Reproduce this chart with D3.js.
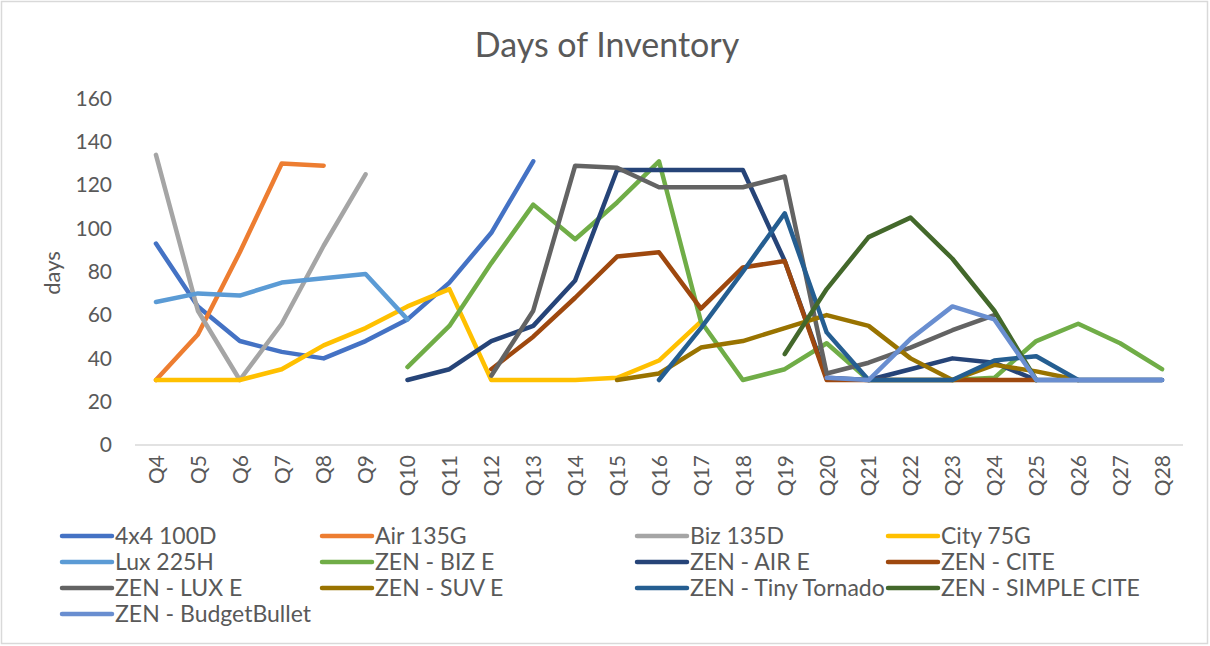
<!DOCTYPE html>
<html>
<head>
<meta charset="utf-8">
<script src="https://cdn.jsdelivr.net/npm/d3@7"></script>
<style>
  html, body { margin: 0; padding: 0; background: #fff; }
  svg { display: block; font-family: Lato, "Open Sans", sans-serif; }
</style>
</head>
<body>
<svg id="chart" width="1210" height="646"></svg>
<script>
// Quarters on the category axis
const quarters = ["Q4","Q5","Q6","Q7","Q8","Q9","Q10","Q11","Q12","Q13","Q14","Q15","Q16",
                  "Q17","Q18","Q19","Q20","Q21","Q22","Q23","Q24","Q25","Q26","Q27","Q28"];

// Days of inventory per model, one value per quarter (null = no data)
const s4x4_100D   = [93,64,48,43,40,48,58,75,98,131,null,null,null,null,null,null,null,null,null,null,null,null,null,null,null];
const air135G     = [30,51,89,130,129,null,null,null,null,null,null,null,null,null,null,null,null,null,null,null,null,null,null,null,null];
const biz135D     = [134,62,30,56,92,125,null,null,null,null,null,null,null,null,null,null,null,null,null,null,null,null,null,null,null];
const city75G     = [30,30,30,35,46,54,64,72,30,30,30,31,39,57,null,null,null,null,null,null,null,null,null,null,null];
const lux225H     = [66,70,69,75,77,79,58,null,null,null,null,null,null,null,null,null,null,null,null,null,null,null,null,null,null];
const zenBizE     = [null,null,null,null,null,null,36,55,84,111,95,112,131,57,30,35,47,30,30,30,31,48,56,47,35];
const zenAirE     = [null,null,null,null,null,null,30,35,48,55,76,127,127,127,127,85,31,30,35,40,38,30,30,30,30];
const zenCite     = [null,null,null,null,null,null,null,null,35,50,68,87,89,63,82,85,30,30,30,30,30,30,null,null,null];
const zenLuxE     = [null,null,null,null,null,null,null,null,32,62,129,128,119,119,119,124,33,38,45,53,60,null,null,null,null];
const zenSuvE     = [null,null,null,null,null,null,null,null,null,null,null,30,33,45,48,54,60,55,40,30,37,34,30,null,null];
const zenTiny     = [null,null,null,null,null,null,null,null,null,null,null,null,30,54,80,107,52,30,30,30,39,41,30,30,30];
const zenSimple   = [null,null,null,null,null,null,null,null,null,null,null,null,null,null,null,42,72,96,105,86,62,30,null,null,null];
const zenBudget   = [null,null,null,null,null,null,null,null,null,null,null,null,null,null,null,null,31,30,49,64,58,30,30,30,30];

const seriesNames  = ["4x4 100D","Air 135G","Biz 135D","City 75G","Lux 225H","ZEN - BIZ E","ZEN - AIR E",
                      "ZEN - CITE","ZEN - LUX E","ZEN - SUV E","ZEN - Tiny Tornado","ZEN - SIMPLE CITE","ZEN - BudgetBullet"];
const seriesValues = [s4x4_100D, air135G, biz135D, city75G, lux225H, zenBizE, zenAirE,
                      zenCite, zenLuxE, zenSuvE, zenTiny, zenSimple, zenBudget];
const seriesColors = ["#4472C4","#ED7D31","#A5A5A5","#FFC000","#5B9BD5","#70AD47","#264478",
                      "#9E480E","#636363","#997300","#255E91","#43682B","#698ED0"];

const yTicks = [0,20,40,60,80,100,120,140,160];

const svg = d3.select("#chart");
const textColor = "#595959";

// Chart frame
svg.append("rect")
  .attr("x", 1.5).attr("y", 1.5)
  .attr("width", 1206).attr("height", 642)
  .attr("fill", "#fff")
  .attr("stroke", "#D9D9D9").attr("stroke-width", 1.5);

// Title
svg.append("text")
  .attr("x", 607).attr("y", 57)
  .attr("text-anchor", "middle")
  .attr("fill", textColor)
  .attr("font-size", 34)
  .text("Days of Inventory");

// Scales
const x = d3.scalePoint().domain(quarters).range([135, 1183]).padding(0.5);
const y = d3.scaleLinear().domain([0, 160]).range([445, 98.5]);

// Y axis (labels only)
const yAxis = svg.append("g").attr("transform", "translate(112,0)")
  .call(d3.axisLeft(y).tickValues(yTicks).tickSize(0).tickPadding(0));
yAxis.select(".domain").remove();
yAxis.selectAll("text")
  .attr("fill", textColor)
  .attr("font-size", 21)
  .attr("font-family", "Lato, 'Open Sans', sans-serif");

// Y axis title
svg.append("text")
  .attr("transform", "translate(60,273) rotate(-90)")
  .attr("text-anchor", "middle")
  .attr("fill", textColor)
  .attr("font-size", 22)
  .text("days");

// X axis baseline and rotated quarter labels
const xAxis = svg.append("g").attr("transform", "translate(0,445)")
  .call(d3.axisBottom(x).tickSize(0).tickPadding(0));
xAxis.select(".domain")
  .attr("stroke", "#D9D9D9").attr("stroke-width", 1.5)
  .attr("d", "M135,0H1183");
xAxis.selectAll("text")
  .attr("fill", textColor)
  .attr("font-size", 21)
  .attr("font-family", "Lato, 'Open Sans', sans-serif")
  .attr("text-anchor", "end")
  .attr("dy", "0.35em")
  .attr("transform", "translate(0,10) rotate(-90)")
  .attr("x", 0).attr("y", 0);

// Lines
const line = d3.line()
  .defined(d => d.v != null)
  .x(d => x(d.q))
  .y(d => y(d.v));

const lines = svg.append("g");
seriesValues.forEach((vals, i) => {
  const pts = vals.map((v, j) => ({ q: quarters[j], v }));
  lines.append("path")
    .datum(pts)
    .attr("d", line)
    .attr("fill", "none")
    .attr("stroke", seriesColors[i])
    .attr("stroke-width", 4.5)
    .attr("stroke-linecap", "round")
    .attr("stroke-linejoin", "round");
});

// Legend: four columns, row-major order
const legendCols = [62, 322, 637, 888];
const legendRowY = 536, legendRowStep = 26;
const legend = svg.append("g");
seriesNames.forEach((name, i) => {
  const cx = legendCols[i % 4];
  const cy = legendRowY + Math.floor(i / 4) * legendRowStep;
  const g = legend.append("g").attr("transform", `translate(${cx},${cy})`);
  g.append("line")
    .attr("x1", 0).attr("x2", 50).attr("y1", 0).attr("y2", 0)
    .attr("stroke", seriesColors[i]).attr("stroke-width", 4.5)
    .attr("stroke-linecap", "round");
  g.append("text")
    .attr("x", 53).attr("y", 0).attr("dy", "0.35em")
    .attr("fill", textColor)
    .attr("font-size", 23)
    .text(name);
});
</script>
</body>
</html>
